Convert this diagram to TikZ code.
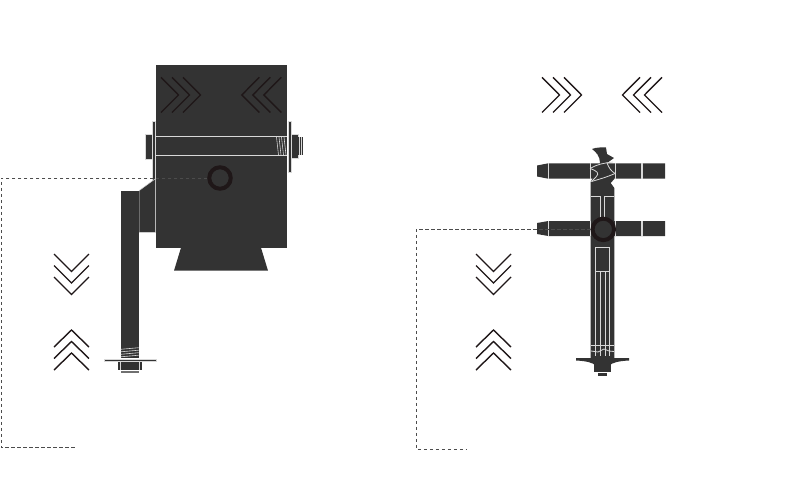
\documentclass[tikz,border=0pt]{standalone}
\usepackage{tikz}
\definecolor{bodygray}{HTML}{333333}
\definecolor{ringdark}{HTML}{1F1718}
\definecolor{edgegray}{HTML}{D8D8D8}
\tikzset{
  body/.style={fill=bodygray,draw=none},
  part/.style={fill=bodygray,draw=edgegray,line width=0.5pt},
  edgeline/.style={draw=edgegray,line width=0.8pt},
  chevron/.style={draw=ringdark,line width=1.4pt,line cap=butt,line join=miter},
  ringnode/.style={circle,draw=ringdark,fill=bodygray,line width=4pt,minimum size=21.5pt,inner sep=0pt,outer sep=2pt},
  leader/.style={draw=black!70,line width=1pt,dash pattern=on 3.4pt off 2.6pt}
}
\begin{document}
\begin{tikzpicture}[x=1pt,y=-1pt]
  \useasboundingbox (0,0) rectangle (809,501);

  % front view
  \fill[body] (155.7,64.7) rectangle (286.7,247.7);
  \fill[body] (181,247.7) -- (261,247.7) -- (268,270.7) -- (174,270.7) -- cycle;
  \draw[edgeline] (155.7,136.3) -- (286.7,136.3);
  \draw[edgeline] (155.7,155) -- (286.7,155);
  \foreach \tx in {276.5,279,281.5,284}
    \draw[edgeline,line width=0.6pt] (\tx,137) -- ({\tx+2},155);
  \draw[part] (152.4,121) rectangle (155.7,180);
  \draw[part] (145.2,134) rectangle (152.4,159);
  \draw[part] (288,121) rectangle (291.3,172);
  \draw[part] (291.3,134) rectangle (298.3,158);
  \fill[body] (298.3,137) rectangle (303,155);
  \foreach \tx in {299.5,301.5}
    \draw[edgeline,line width=0.6pt] (\tx,137) -- (\tx,155);
  \draw[part] (139,190.7) -- (155.7,178.5) -- (155.7,232.3) -- (139,232.3) -- cycle;
  \fill[body] (120.7,190.7) rectangle (138.7,347);
  \fill[body] (120.7,347) rectangle (138.7,358);
  \foreach \ty in {348.5,351,353.5,356}
    \draw[edgeline,line width=0.6pt] (120.7,{\ty+0.8}) -- (138.7,{\ty-0.8});
  \draw[part] (104,358.8) rectangle (156,361.6);
  \fill[body] (117.5,362) rectangle (142,369.5);
  \draw[edgeline,line width=0.6pt] (120.5,362) -- (120.5,369.5);
  \draw[edgeline,line width=0.6pt] (139,362) -- (139,369.5);
  \fill[bodygray!70] (120.7,370.5) rectangle (138.7,373);

  % side view
  \fill[body] (592,149) .. controls (597,147) and (602,147.5) .. (606,147.5)
    -- (607,154) -- (614,158) -- (607,163) -- (614.3,179) -- (610.7,183) -- (614.3,188)
    -- (614.3,358) -- (590.7,358) -- (590.7,182) -- (600,163) .. controls (600,156) and (596,152) .. cycle;
  \fill[body] (537,165.5) -- (548.3,163.3) -- (665,163.3) -- (665,178.7) -- (548.3,178.7) -- (537,176.5) -- cycle;
  \fill[body] (537,223) -- (548.3,221) -- (665,221) -- (665,236) -- (548.3,236) -- (537,234) -- cycle;
  \foreach \tx in {548.3,590,615,641,642.5} {
    \draw[edgeline] (\tx,163.3) -- (\tx,178.7);
    \draw[edgeline] (\tx,221) -- (\tx,236);
  }
  \fill[body] (590.5,163.6) rectangle (614.5,178.4);
  \draw[edgeline] (590,168.5) .. controls (598,164) and (604,163) .. (613,162);
  \draw[edgeline] (590,168.5) .. controls (597,171) and (600,173) .. (596,177) -- (591.5,181.5);
  \draw[edgeline] (607,163) .. controls (609,168) and (611,171) .. (615,173.5);
  \draw[edgeline] (615,173.5) .. controls (607,177) and (600,179) .. (591.5,181.5);
  \draw[edgeline] (590.7,196.7) -- (600,196.7) -- (600,217);
  \draw[edgeline] (614.3,196.7) -- (604,196.7) -- (604,217);
  \draw[edgeline] (595,271.5) -- (595,247.3) -- (609.7,247.3) -- (609.7,271.5);
  \draw[edgeline,line width=1pt] (595,271.5) -- (609.7,271.5);
  \foreach \tx in {595,600,605,609.7}
    \draw[edgeline] (\tx,272) -- (\tx,356);
  \draw[edgeline] (591,345.5) -- (614,345.5);
  \draw[edgeline] (591,351) -- (598,352) -- (604,349) -- (609,351) -- (614,351.5);
  \fill[body] (576,358) -- (629,358) -- (629,360.5) .. controls (618,361) and (612,363) .. (610,365)
    -- (595,365) .. controls (593,363) and (587,361) .. (576,360.5) -- cycle;
  \fill[body] (593.5,364) rectangle (611,372);
  \fill[body] (597.5,373) rectangle (607,375.5);

  % chevrons
  \foreach \dx in {0,11,22} {
    \draw[chevron] ({161+\dx},77.3) -- ({178.5+\dx},95) -- ({161+\dx},112.5);
    \draw[chevron] ({259.3+\dx},77.3) -- ({241.8+\dx},95) -- ({259.3+\dx},112.5);
    \draw[chevron] ({542+\dx},77.3) -- ({559.5+\dx},95) -- ({542+\dx},112.5);
    \draw[chevron] ({640+\dx},77.3) -- ({622.5+\dx},95) -- ({640+\dx},112.5);
  }
  \foreach \dy in {0,11.5,23} {
    \draw[chevron] (54,{254+\dy}) -- (71.5,{271.5+\dy}) -- (89,{254+\dy});
    \draw[chevron] (476,{254+\dy}) -- (493.5,{271.5+\dy}) -- (511,{254+\dy});
    \draw[chevron] (54,{347+\dy}) -- (71.5,{330+\dy}) -- (89,{347+\dy});
    \draw[chevron] (476,{347+\dy}) -- (493.5,{330+\dy}) -- (511,{347+\dy});
  }

  % rings and leaders
  \node[ringnode] (ringL) at (220,178) {};
  \node[ringnode] (ringR) at (603.3,229.4) {};
  \coordinate (cornerLa) at (1,178);
  \coordinate (cornerLb) at (1,447.5);
  \coordinate (endL) at (75,447.5);
  \coordinate (cornerRa) at (416,229.4);
  \coordinate (cornerRb) at (416,449);
  \coordinate (endR) at (467,449);
  \draw[leader] (ringL) -- (cornerLa) -- (cornerLb) -- (endL);
  \draw[leader] (ringR) -- (cornerRa) -- (cornerRb) -- (endR);
\end{tikzpicture}
\end{document}
